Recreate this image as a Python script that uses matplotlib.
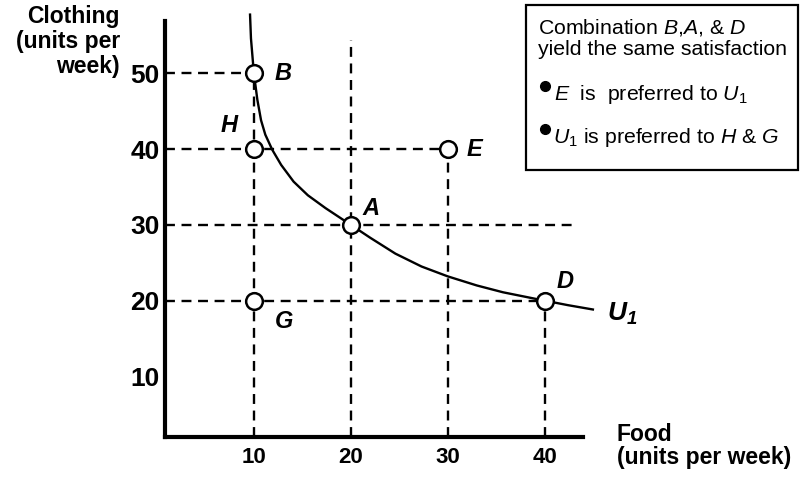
import matplotlib
matplotlib.use("Agg")
import matplotlib.pyplot as plt
from matplotlib.patches import Rectangle
from matplotlib.lines import Line2D

plt.rcParams['font.family'] = ['Liberation Sans', 'DejaVu Sans']
plt.rcParams['mathtext.fontset'] = 'custom'
plt.rcParams['mathtext.rm'] = 'Liberation Sans'
plt.rcParams['mathtext.it'] = 'Liberation Sans:italic'
plt.rcParams['mathtext.bf'] = 'Liberation Sans:bold'
plt.rcParams['mathtext.bfit'] = 'Liberation Sans:italic:bold'

# market baskets (food, clothing)
pt_names = ['B', 'H', 'E', 'A', 'D', 'G']
pt_food = [10, 10, 30, 20, 40, 10]
pt_cloth = [50, 40, 40, 30, 20, 20]

# indifference curve U1
curve_food = [9.6, 9.7, 10, 10.36, 10.74, 11.18, 11.9, 12.82, 14.1, 15.57, 17.4,
              20, 22, 24.6, 27.3, 30, 33, 35.7, 39, 40, 42.4, 45.1]
curve_cloth = [57.9, 54.6, 50, 46.5, 43.8, 41.9, 39.9, 37.9, 35.7, 33.9, 32.2,
               30, 28.3, 26.2, 24.5, 23.2, 22.0, 21.1, 20.25, 20, 19.4, 18.8]

# dashed guide lines
h_levels = [50, 40, 30, 20]
h_ends = [10, 30, 42.8, 40]
v_levels = [10, 20, 30, 40]
v_tops = [50, 54.4, 40, 20]

x_ticks = [10, 20, 30, 40]
y_ticks = [10, 20, 30, 40, 50]

W, H = 800, 478
fig = plt.figure(figsize=(W / 100, H / 100), dpi=100)
ax = fig.add_axes([165 / W, (H - 437) / H, (583 - 165) / W, (437 - 21) / H])
x0, x1 = 0.83, 43.96
y0, y1 = 2.0, 56.9
ax.set_xlim(x0, x1)
ax.set_ylim(y0, y1)

dash = (0, (4.2, 2.8))
for y, xe in zip(h_levels, h_ends):
    ax.plot([x0, xe], [y, y], color='black', lw=1.7, ls=dash)
for x, yt in zip(v_levels, v_tops):
    ax.plot([x, x], [y0, yt], color='black', lw=1.7, ls=dash)

ax.plot(curve_food, curve_cloth, color='black', lw=1.7, clip_on=False,
        solid_capstyle='butt', solid_joinstyle='round')

ax.plot(pt_food, pt_cloth, 'o', ms=12, mfc='white', mec='black', mew=1.8,
        ls='none', zorder=5)

# label offsets in points
offsets = {'B': (21, 0), 'H': (-18, 17), 'E': (19.5, 0), 'A': (14.5, 11.5),
           'D': (14.5, 14), 'G': (21.5, -15)}
for name, fx, cy in zip(pt_names, pt_food, pt_cloth):
    ax.annotate(name, (fx, cy), xytext=offsets[name], textcoords='offset points',
                ha='center', va='center', fontsize=17, fontweight='bold',
                style='italic')

ax.annotate(r'$\mathbfit{U}_\mathbfit{1}$', (curve_food[-1], curve_cloth[-1]),
            xytext=(9, -3), textcoords='offset points', ha='left', va='center',
            fontsize=19, annotation_clip=False)

for s in ['top', 'right']:
    ax.spines[s].set_visible(False)
for s in ['left', 'bottom']:
    ax.spines[s].set_linewidth(3)
    ax.spines[s].set_capstyle('projecting')

ax.set_xticks(x_ticks)
ax.set_yticks(y_ticks)
ax.tick_params(axis='x', length=0, pad=7, labelsize=16)
ax.tick_params(axis='y', length=0, pad=4, labelsize=19)
for lab in ax.get_xticklabels() + ax.get_yticklabels():
    lab.set_fontweight('bold')

fig.text(120 / W, 1 - 5 / H, 'Clothing\n(units per\nweek)', ha='right', va='top',
         multialignment='right', fontsize=16.5, fontweight='bold', linespacing=1.1)
fig.text(617 / W, 1 - 423 / H, 'Food\n(units per week)', ha='left', va='top',
         fontsize=16.5, fontweight='bold', linespacing=1.0)

# note box
fig.add_artist(Rectangle((526 / W, 1 - 170 / H), (798 - 526) / W, 165 / H,
                         transform=fig.transFigure, fill=False, lw=1.6,
                         edgecolor='black'))
fig.text(538 / W, 1 - 33 / H, 'Combination $B$,$A$, & $D$', fontsize=15.3,
         va='baseline')
fig.text(538 / W, 1 - 55 / H, 'yield the same satisfaction', fontsize=15.3,
         va='baseline')
fig.text(554 / W, 1 - 100 / H, r'$E$  is  preferred to $U_1$', fontsize=15.3,
         va='baseline')
fig.text(553 / W, 1 - 143 / H, r'$U_1$ is preferred to $H$ & $G$', fontsize=15.3,
         va='baseline')
for by in [86, 129]:
    fig.add_artist(Line2D([545 / W], [1 - by / H], marker='o', ms=7,
                          color='black', transform=fig.transFigure))

fig.savefig('out.png', dpi=100)
